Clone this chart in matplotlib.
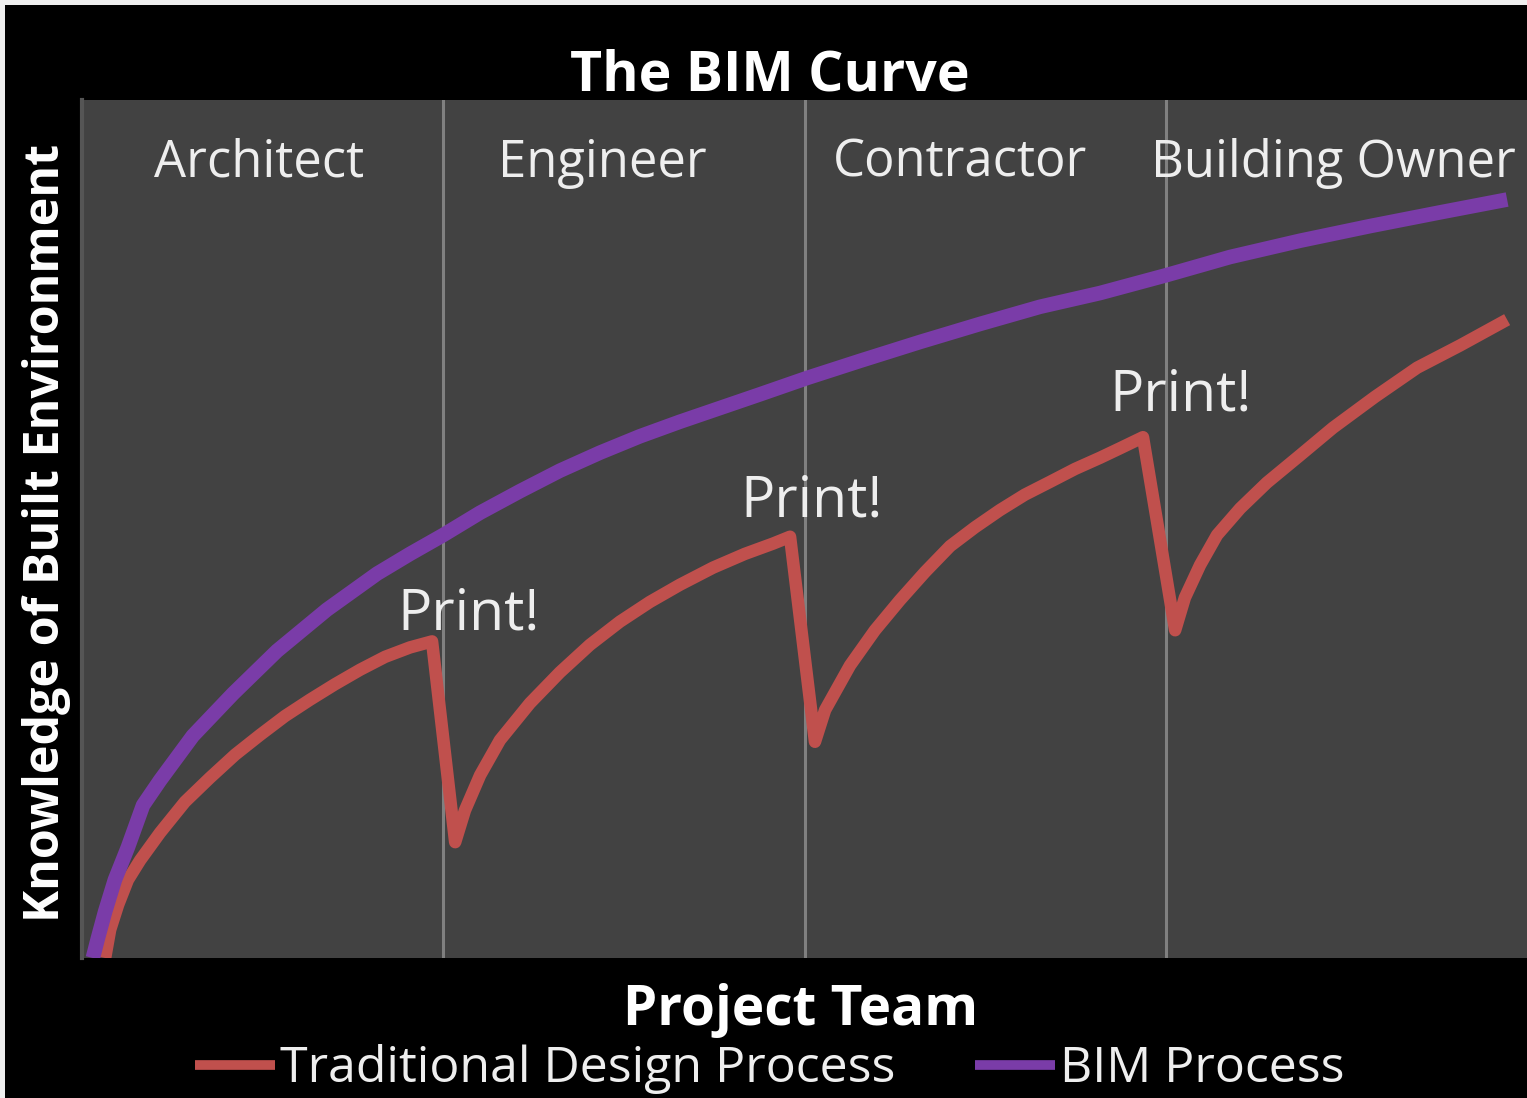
import matplotlib
matplotlib.use('Agg')
import matplotlib.pyplot as plt
from matplotlib.patches import Rectangle

plt.rcParams['font.family'] = ['Open Sans', 'DejaVu Sans']

# project phases (one unit of x per team member)
roles = ['Architect', 'Engineer', 'Contractor', 'Building Owner']
role_label_x = [0.49, 1.44, 2.43, 3.463]
dividers = [1, 2, 3]

# BIM process curve (x: project team, y: knowledge 0-100)
bim_x = [0.030, 0.044, 0.064, 0.091, 0.127, 0.169, 0.216, 0.307, 0.418, 0.540,
         0.678, 0.817, 0.908, 1.000, 1.102, 1.212, 1.323, 1.434, 1.544, 1.655,
         1.766, 1.877, 2.007, 2.154, 2.320, 2.486, 2.652, 2.818, 3.003, 3.178,
         3.372, 3.565, 3.759, 3.945]
bim_y = [0.0, 2.3, 5.4, 9.1, 12.9, 17.8, 20.7, 25.9, 30.8, 35.8,
         40.6, 44.8, 47.1, 49.3, 51.9, 54.4, 56.8, 58.9, 60.8, 62.5,
         64.1, 65.7, 67.6, 69.6, 71.8, 73.9, 75.9, 77.5, 79.6, 81.7,
         83.6, 85.3, 86.9, 88.4]

# traditional design process: knowledge lost at each hand-over ("Print!")
trad_x = [0.064, 0.078, 0.100, 0.127, 0.161, 0.216, 0.285, 0.354, 0.424, 0.493,
          0.562, 0.631, 0.700, 0.770, 0.839, 0.908, 0.969,
          1.033, 1.060, 1.102, 1.157, 1.240, 1.323, 1.406, 1.489, 1.572,
          1.655, 1.747, 1.835, 1.913, 1.960,
          2.029, 2.057, 2.126, 2.195, 2.264, 2.334, 2.403, 2.472, 2.541,
          2.610, 2.680, 2.749, 2.818, 2.873, 2.937,
          3.026, 3.053, 3.095, 3.142, 3.206, 3.280, 3.372, 3.463, 3.579,
          3.696, 3.815, 3.945]
trad_y = [0.0, 3.3, 6.2, 9.1, 11.4, 14.6, 18.2, 21.0, 23.7, 26.0,
          28.2, 30.1, 31.9, 33.6, 35.1, 36.2, 36.9,
          13.5, 17.2, 21.3, 25.4, 29.7, 33.3, 36.5, 39.2, 41.5,
          43.5, 45.5, 47.1, 48.3, 49.1,
          25.2, 28.9, 34.1, 38.2, 41.7, 45.0, 48.0, 50.2, 52.2,
          54.0, 55.5, 57.0, 58.3, 59.4, 60.7,
          38.2, 42.0, 45.8, 49.3, 52.4, 55.4, 58.6, 61.8, 65.4,
          68.8, 71.4, 74.4]

print_x = [1.07, 2.02, 3.04]
print_y = [40.0, 53.2, 65.5]

fig = plt.figure(figsize=(15.27, 10.98), dpi=100)
fig.patch.set_facecolor('#efefef')
fig.add_artist(Rectangle((5 / 1527, 0), 1, 1 - 5 / 1098, transform=fig.transFigure,
                         facecolor='black', edgecolor='none', zorder=0))

ax = fig.add_axes([82 / 1527, 1 - 958 / 1098, 1 - 82 / 1527, (958 - 100) / 1098])
ax.set_facecolor('#424242')
ax.set_xlim(0, 4)
ax.set_ylim(0, 100)
ax.set_xticks([])
ax.set_yticks([])
for side in ['top', 'right', 'bottom']:
    ax.spines[side].set_visible(False)
ax.spines['left'].set_color('#555555')
ax.spines['left'].set_linewidth(3)

for d in dividers:
    ax.axvline(d, color='#808080', lw=2.2, zorder=1)

ax.plot(trad_x, trad_y, color='#c0504d', lw=9, solid_joinstyle='round',
        solid_capstyle='butt', label='Traditional Design Process', zorder=3)
ax.plot(bim_x, bim_y, color='#7a3ca8', lw=10.5, solid_joinstyle='round',
        solid_capstyle='butt', label='BIM Process', zorder=3)

for name, x in zip(roles, role_label_x):
    ax.text(x, 92.6, name, color='#eeeeee', fontsize=36.5, ha='center', va='center', zorder=4)

for x, y in zip(print_x, print_y):
    ax.text(x, y, 'Print!', color='#eeeeee', fontsize=41, ha='center', va='center', zorder=4)

fig.text(770 / 1527, 1 - 76 / 1098, 'The BIM Curve', color='white', fontsize=40,
         fontweight='bold', ha='center', va='center')
fig.text(801 / 1527, 1 - 1010 / 1098, 'Project Team', color='white', fontsize=39.5,
         fontweight='bold', ha='center', va='center')
fig.text(47 / 1527, 1 - 533 / 1098, 'Knowledge of Built Environment', color='white',
         fontsize=34.8, fontweight='bold', rotation=90, ha='center', va='center')

leg = fig.legend(loc='center', bbox_to_anchor=(770 / 1527, 1 - 1069 / 1098), ncol=2,
                 frameon=False, fontsize=36, handlelength=1.6, handletextpad=0.1,
                 columnspacing=1.6)
for t in leg.get_texts():
    t.set_color('#eeeeee')
for h in leg.get_lines():
    h.set_linewidth(7)

fig.savefig('out.png', dpi=100, facecolor=fig.get_facecolor())
